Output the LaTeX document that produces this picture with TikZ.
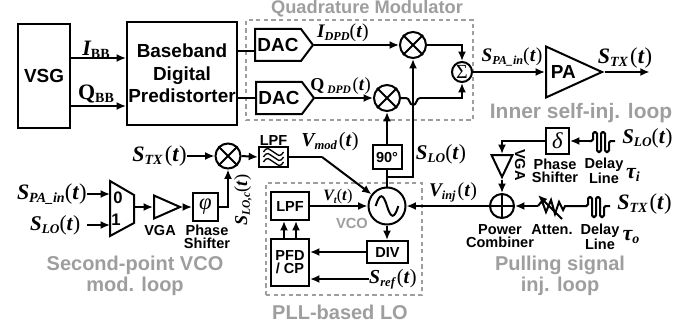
\documentclass[tikz,border=0pt]{standalone}
\usepackage{fontspec}
\setmainfont{Liberation Sans}
\newfontfamily\sigfont{Liberation Serif}
\usetikzlibrary{arrows.meta,shapes.geometric,shapes.symbols}
\def\px{0.75pt}
\definecolor{loopgray}{gray}{0.62}
\newcommand{\sigbase}{\sigfont\bfseries\itshape\fontsize{16.5}{17}\selectfont}
\newcommand{\sigsub}[1]{\raisebox{-2.5pt}{\fontsize{10.5}{11}\selectfont #1}}
\newcommand{\sigt}{{\sigfont\fontsize{17}{17}\selectfont(\textit{\bfseries t})}}
\tikzset{
  wire/.style={line width=1.5pt},
  arrowline/.style={wire,-{Latex[length=7pt,width=6pt]}},
  dashbox/.style={draw=loopgray,line width=1.7pt,dash pattern=on 3.2pt off 2.5pt},
  block/.style={draw,line width=1.5pt,inner sep=0pt,align=center},
  bigtext/.style={font=\bfseries\fontsize{14.2}{17}\selectfont,align=center},
  smalltext/.style={font=\bfseries\fontsize{10.9}{9.8}\selectfont,align=center,inner sep=0pt},
  looptext/.style={font=\bfseries\fontsize{15}{15.8}\selectfont,text=loopgray,align=center,inner sep=0pt},
  siglabel/.style={inner sep=0pt},
  ring/.style={draw,circle,line width=1.5pt,inner sep=0pt},
  dacbox/.style={block,bigtext,signal,signal to=east,signal from=nowhere,signal pointer angle=106,
    minimum width=58*\px,minimum height=32*\px,anchor=west},
  amp/.style={draw,line width=1.5pt,isosceles triangle,isosceles triangle stretches,inner sep=0pt},
  delayline/.pic={
    \draw[wire,rounded corners=1.2pt] (-13,0) -- (-9,0) -- (-9,-9) -- (-5,-9) -- (-5,11) -- (-1,11) -- (-1,-9)
      -- (3,-9) -- (3,11) -- (7,11) -- (7,0) -- (13,0);
    \coordinate (-l) at (-13,0);
    \coordinate (-r) at (13,0);
  },
}
\begin{document}
\begin{tikzpicture}[x=\px,y=-\px]
\useasboundingbox (0,0) rectangle (692,328);

%Dashed Boxes
\node[dashbox,minimum width=227*\px,minimum height=100*\px] (qmbox) at (359.5,70){};
\node[dashbox,minimum width=156*\px,minimum height=112*\px] (pllbox) at (344,239){};

%VSG
\node[block,bigtext,minimum width=52*\px,minimum height=104*\px] (vsg) at (44,76){VSG};

%Predistorter
\node[block,bigtext,minimum width=110*\px,minimum height=103*\px] (bbdp) at (182,73.5){Baseband\\Digital\\Predistorter};

%DACs
\node[dacbox] (dac1) at (254,45){DAC};
\node[dacbox] (dac2) at (255,98){DAC};

%Mixers
\node[ring,minimum size=26*\px] (mix1) at (413,45){};
\node[ring,minimum size=26*\px] (mix2) at (387,98){};
\node[ring,minimum size=25*\px] (mix3) at (228,156){};

%Sum
\node[ring,minimum size=20*\px,font=\sigfont\fontsize{15}{15}\selectfont] (sum) at (462,72){Σ};

%PA
\node[amp,anchor=west,minimum width=51*\px,minimum height=56*\px,font=\bfseries\fontsize{14.2}{15}\selectfont] (pa) at (545,72){PA\hspace{5pt}};

%VCO and PLL
\node[ring,minimum size=37*\px] (vco) at (387,206){};
\node[block,smalltext,minimum width=29*\px,minimum height=24*\px] (ninety) at (387,157){90°};
\node[block,minimum width=29*\px,minimum height=20*\px] (lpfa) at (273.5,157){};
\node[block,smalltext,minimum width=38*\px,minimum height=28*\px] (lpfb) at (290,206){LPF};
\node[block,smalltext,minimum width=38*\px,minimum height=47*\px] (pfd) at (290,262.5){PFD\\/ CP};
\node[block,smalltext,minimum width=41*\px,minimum height=22*\px] (div) at (387.5,252){DIV};

%Second Point Path
\coordinate (muxa) at (110,194);
\coordinate (muxb) at (110,226);
\coordinate (muxo) at (134,207);
\draw[wire] (110,181) -- (134,195) -- (134,223) -- (110,236) -- cycle;
\node[inner sep=0pt,font=\bfseries\fontsize{12.5}{13}\selectfont] (muxzero) at (118,198){0};
\node[inner sep=0pt,font=\bfseries\fontsize{12.5}{13}\selectfont] (muxone) at (116,220){1};
\node[amp,anchor=west,minimum width=23*\px,minimum height=26*\px] (vgaa) at (153,207){};
\node[block,minimum width=25*\px,minimum height=28*\px,font=\sigfont\itshape\fontsize{17}{17}\selectfont] (phsa) at (205.5,207){φ};

%Injection Path
\node[ring,minimum size=24*\px] (comb) at (502,206){};
\node[amp,anchor=north,shape border rotate=270,minimum width=21*\px,minimum height=22*\px] (vgab) at (502,154){};
\node[block,minimum width=23*\px,minimum height=26*\px,font=\sigfont\itshape\fontsize{17}{17}\selectfont] (phsb) at (557.5,141){δ};
\pic (dla) at (602,141) {delayline};
\pic (dlb) at (597,206) {delayline};
\coordinate (attl) at (538,206);
\coordinate (attr) at (565,206);
\coordinate (atta) at (562,219);
\coordinate (attb) at (538,195);

%Signal Labels
\node[siglabel] (libb) at (96,50){{\sigbase I\upshape\sigsub{BB}}};
\node[siglabel] (lqbb) at (96,94){{\sigbase\upshape Q\sigsub{BB}}};
\node[siglabel,scale=.87] (lidpd) at (343,33){{\sigbase I\sigsub{DPD}}\sigt};
\node[siglabel,scale=.82] (lqdpd) at (340.5,86){{\sigbase\upshape Q\,\itshape\sigsub{DPD}}\,\sigt};
\node[siglabel,scale=.87] (lspa) at (512,57){{\sigbase S\sigsub{PA\_in}}\sigt};
\node[siglabel] (lstx) at (625,58){{\sigbase S\sigsub{TX}}\,\sigt};
\node[siglabel,anchor=east] (lstxa) at (187,156){{\sigbase S\sigsub{TX}}\,\sigt};
\node[siglabel,scale=.9] (lvmod) at (330,142){{\sigbase V\sigsub{mod}}\,\sigt};
\node[siglabel,scale=.95] (lslo) at (441,154){{\sigbase S\sigsub{LO}}\sigt};
\node[siglabel,rotate=90,scale=.82] (lsloc) at (243,200){{\sigbase S\sigsub{LO,c}}\sigt};
\node[siglabel,anchor=east] (lspb) at (87,194){{\sigbase S\sigsub{PA\_in}}\sigt};
\node[siglabel,anchor=east,inner xsep=5pt,scale=.95] (lslob) at (87,225){{\sigbase S\sigsub{LO}}\sigt};
\node[siglabel,scale=.72] (lvt) at (338,197){{\sigbase V\sigsub{t}}\sigt};
\node[siglabel,anchor=west,scale=.9] (lsref) at (369,279){{\sigbase S\sigsub{ref}}\,\sigt};
\node[siglabel,scale=.88] (lvinj) at (453,192){{\sigbase V\sigsub{inj}}\,\sigt};
\node[siglabel,anchor=west,scale=.95] (lsloa) at (622,138){{\sigbase S\sigsub{LO}}\sigt};
\node[siglabel,anchor=west] (lstxb) at (617,204){{\sigbase S\sigsub{TX}}\,\sigt};
\node[siglabel] (ltaui) at (633,175){{\sigbase τ\sigsub{i}}};
\node[siglabel] (ltauo) at (631,237){{\sigbase τ\sigsub{o}}};

%Small Labels
\node[smalltext] (tlpf) at (273.5,140){LPF};
\node[smalltext] (tvgaa) at (160,230){VGA};
\node[smalltext] (tphsa) at (207,236.5){Phase\\Shifter};
\node[smalltext,rotate=-90] (tvgab) at (520,165){VGA};
\node[smalltext] (tphsb) at (555,171){Phase\\Shifter};
\node[smalltext] (tdla) at (604,171){Delay\\Line};
\node[smalltext] (tcomb) at (500,236.5){Power\\Combiner};
\node[smalltext] (tatt) at (552,230){Atten.};
\node[smalltext] (tdlb) at (600,236.5){Delay\\Line};

%Loop Labels
\node[looptext,font=\bfseries\fontsize{13.7}{15}\selectfont] (lqm) at (367,9){Quadrature Modulator};
\node[looptext,font=\bfseries\fontsize{15.7}{16}\selectfont] (lself) at (581,113){Inner self-inj. loop};
\node[looptext] (lsec) at (135,276){Second-point VCO\\mod. loop};
\node[looptext] (lpll) at (340,312){PLL-based LO};
\node[looptext] (lpull) at (560,276){Pulling signal\\inj. loop};
\node[looptext,font=\bfseries\fontsize{11}{12}\selectfont] (tvco) at (352,223){VCO};

%Baseband Connections
\coordinate (vsgi) at (70,58);
\coordinate (vsgq) at (70,106);
\coordinate (bbi) at (237,51);
\coordinate (bbq) at (237,98);
\draw[arrowline] (vsgi) -- (vsgi -| bbdp.west);
\draw[arrowline] (vsgq) -- (vsgq -| bbdp.west);
\draw[wire] (bbi) -- (bbi -| dac1.west);
\draw[wire] (bbq) -- (bbq -| dac2.west);

%Modulator Connections
\coordinate (split) at (387,177);
\coordinate (jump) at (406,98);
\coordinate (jumpend) at (420,98);
\draw[arrowline] (dac1.east) -- (mix1.west);
\draw[arrowline] (dac2.east) -- (mix2.west);
\draw[arrowline] (mix1.east) -| (sum.north);
\draw[wire] (mix2.east) -- (jump) .. controls +(4,0) and +(-4,0) .. ++(7,7) .. controls +(4,0) and +(-4,0) .. (jumpend);
\draw[arrowline] (jumpend) -| (sum.south);
\draw[arrowline] (sum.east) -- (pa.west);
\draw[arrowline] (pa.apex) -- ++(45,0) coordinate (paout);
\draw[wire] (vco.north) -- (ninety.south);
\draw[arrowline] (ninety.north) -- (mix2.south);
\draw[arrowline] (split) -| (mix1.south);

%Second Point Connections
\coordinate (vmodb) at (322,157);
\draw[arrowline] (lstxa.east) -- (mix3.west);
\draw[arrowline] (mix3.east) -- (lpfa.west);
\draw[wire] (lpfa.east) -- (vmodb);
\draw[arrowline] (vmodb) -- (vco);
\draw[arrowline] (lspb.east) -- (muxa);
\draw[arrowline] (lslob.east) -- (lslob.east -| muxb);
\draw[arrowline] (muxo) -- (vgaa.west);
\draw[arrowline] (vgaa.apex) -- (phsa.west);
\draw[arrowline] (phsa.east) -| (mix3.south);

%PLL Connections
\draw[arrowline] (lpfb.east) -- (vco.west);
\draw[arrowline] ([xshift=-4.5pt]pfd.north) -- ([xshift=-4.5pt]lpfb.south);
\draw[arrowline] ([xshift=4.5pt]pfd.north) -- ([xshift=4.5pt]lpfb.south);
\draw[arrowline] (vco.south) -- (div.north -| vco.south);
\draw[arrowline] (div.west) -- (div.west -| pfd.east);
\draw[arrowline] (lsref.west) -- (lsref.west -| pfd.east);

%Injection Connections
\draw[arrowline] (comb.west) -- (vco.east);
\draw[arrowline] (attl) -- (comb.east);
\draw[wire] (attl) -- ++(4,-5) -- ++(4,11) -- ++(5,-12) -- ++(4,14) -- ++(4,-12) -- ++(4,8) -- (attr) -- (dlb-l);
\draw[arrowline] (atta) -- (attb);
\draw[arrowline] (dla-l) -- (phsb.east);
\draw[arrowline] (phsb.west) -| (vgab.lower side);
\draw[arrowline] (vgab.apex) -- (comb.north);

%Symbols Inside Nodes
\foreach \m in {mix1,mix2,mix3}{
  \draw[wire] (\m.north west) -- (\m.south east);
  \draw[wire] (\m.north east) -- (\m.south west);
}
\draw[wire] (comb.north) -- (comb.south);
\draw[wire] (comb.west) -- (comb.east);
\draw[wire] ([xshift=-8.5pt]vco.center) .. controls +(4,-13) and +(-4,-13) .. (vco.center) .. controls +(4,13) and +(-4,13) .. ([xshift=8.5pt]vco.center);
\foreach \dy in {-5,0,5}{
  \draw[line width=1pt] ([shift={(-10,\dy)}]lpfa.center) .. controls +(4,-6) and +(-5,-3) .. ([shift={(0,\dy)}]lpfa.center) .. controls +(5,3) and +(-4,6) .. ([shift={(10,\dy)}]lpfa.center);
}
\end{tikzpicture}
\end{document}
